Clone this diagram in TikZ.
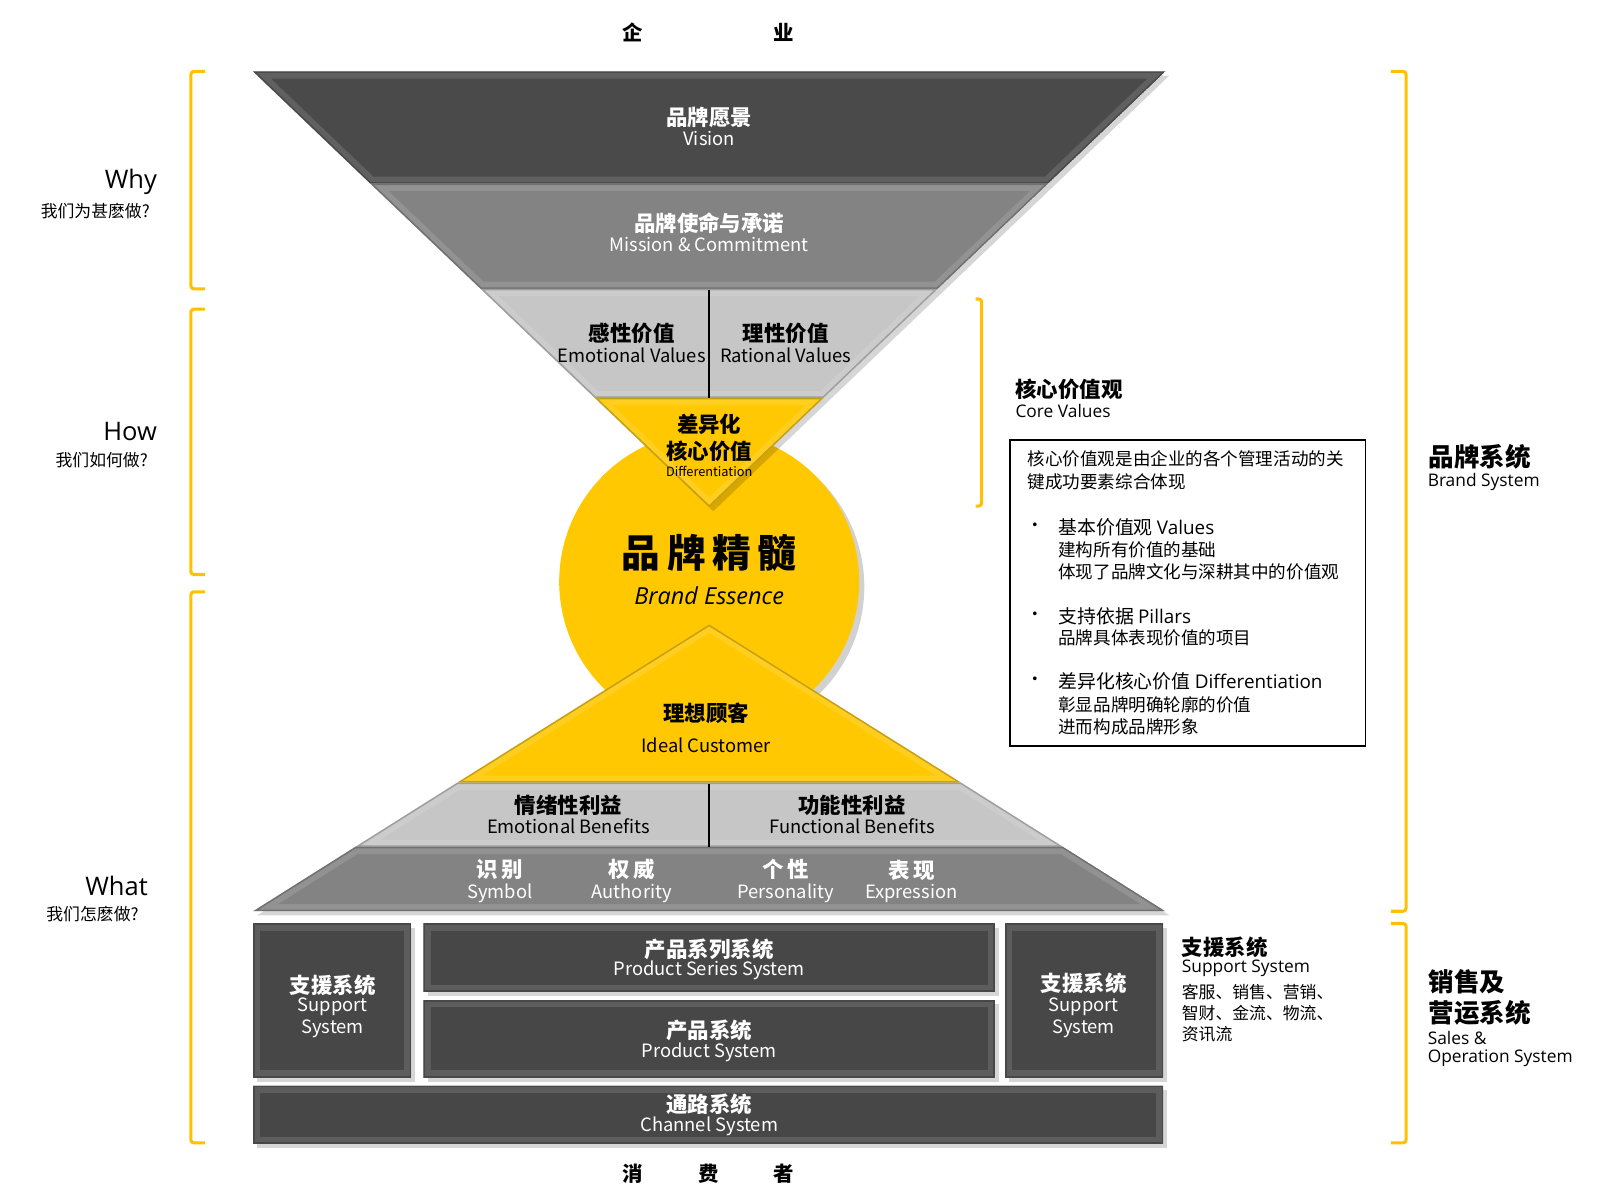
\documentclass[tikz,border=0pt]{standalone}
\usepackage{fontspec}
\setmainfont{Noto Sans CJK SC}
\newfontfamily\segfont{Open Sans}
\definecolor{brandyellow}{HTML}{FFC800}
\definecolor{bracketyellow}{HTML}{FFC000}
\definecolor{darkband}{HTML}{4A4A4A}
\definecolor{midband}{HTML}{838383}
\definecolor{lightband}{HTML}{C6C6C6}
\definecolor{boxgray}{HTML}{474747}
\newcommand{\bevelshape}[2]{%
  \fill[black,opacity=0.16,shift={(4,4)}] #1;
  \begin{scope}
    \clip #1;
    \fill[#2] #1;
    \draw[line width=14pt,white,opacity=0.12] #1;
    \draw[line width=3pt,black,opacity=0.22] #1;
  \end{scope}}

\begin{document}
\begin{tikzpicture}[x=1pt,y=-1pt,
  bracket_line/.style={draw=bracketyellow,line width=3pt,rounded corners=3pt},
  cn_white/.style={text=white,inner sep=0pt,font=\fontsize{21}{21}\selectfont\bfseries},
  en_white/.style={text=white,inner sep=0pt,font=\fontsize{18}{18}\selectfont},
  cn_dark/.style={text=black,inner sep=0pt,font=\fontsize{21}{21}\selectfont\bfseries},
  en_dark/.style={text=black,inner sep=0pt,font=\fontsize{18}{18}\selectfont},
  side_big/.style={anchor=west,inner sep=0pt,font=\fontsize{25}{25}\selectfont\bfseries},
  side_cn/.style={anchor=west,inner sep=0pt,font=\fontsize{21}{21}\selectfont\bfseries},
  side_en/.style={anchor=west,inner sep=0pt,font=\segfont\fontsize{17}{17}\selectfont},
  side_small/.style={anchor=west,inner sep=0pt,font=\fontsize{17.2}{17.2}\selectfont},
  left_head/.style={anchor=east,inner sep=0pt,font=\segfont\fontsize{25}{25}\selectfont},
  left_sub/.style={anchor=east,inner sep=0pt,font=\fontsize{16.5}{16.5}\selectfont},
  edge_char/.style={inner sep=0pt,font=\fontsize{20}{20}\selectfont\bfseries}]

\useasboundingbox (0,0) rectangle (1568,1176);

\draw[bracket_line] (201,70) -- (187,70) -- (187,283) -- (201,283);
\draw[bracket_line] (201,303) -- (187,303) -- (187,563) -- (201,563);
\draw[bracket_line] (201,580) -- (187,580) -- (187,1120) -- (201,1120);
\draw[bracket_line] (1363,70) -- (1378,70) -- (1378,893) -- (1363,893);
\draw[bracket_line] (1363,905) -- (1378,905) -- (1378,1120) -- (1363,1120);
\draw[bracket_line] (956,293) -- (962,293) -- (962,496) -- (956,496);

\fill[black,opacity=0.18] (700,575) circle (147);
\fill[brandyellow] (695,570) circle (147);

\bevelshape{(248,70) -- (1142,70) -- (1027,180) -- (363,180) -- cycle}{darkband}
\bevelshape{(363,180) -- (1027,180) -- (919,283) -- (471,283) -- cycle}{midband}
\bevelshape{(471,283) -- (919,283) -- (807,390) -- (583,390) -- cycle}{lightband}
\bevelshape{(583,390) -- (807,390) -- (695,497) -- cycle}{brandyellow}

\bevelshape{(695,612) -- (942,767) -- (448,767) -- cycle}{brandyellow}
\bevelshape{(448,767) -- (942,767) -- (1042,830) -- (348,830) -- cycle}{lightband}
\bevelshape{(348,830) -- (1042,830) -- (1142,893) -- (248,893) -- cycle}{midband}

\bevelshape{(248,905) rectangle (403,1056)}{boxgray}
\bevelshape{(415,905) rectangle (975,972)}{boxgray}
\bevelshape{(415,980) rectangle (975,1056)}{boxgray}
\bevelshape{(985,905) rectangle (1140,1056)}{boxgray}
\bevelshape{(248,1064) rectangle (1140,1121)}{boxgray}

\draw[line width=2.5pt] (695,284) -- (695,390);
\draw[line width=2.5pt] (695,768) -- (695,830);

\node[edge_char] (firm_a) at (620,32) {企};
\node[edge_char] (firm_b) at (768,32) {业};
\node[edge_char] (buyer_a) at (620,1150) {消};
\node[edge_char] (buyer_b) at (695,1150) {费};
\node[edge_char] (buyer_c) at (768,1150) {者};

\node[left_head] (why) at (154,178) {Why};
\node[left_sub] (why_cn) at (147,207) {我们为甚麽做?};
\node[left_head] (how) at (154,423) {How};
\node[left_sub] (how_cn) at (145,451) {我们如何做?};
\node[left_head] (what) at (145,868) {What};
\node[left_sub] (what_cn) at (136,896) {我们怎麽做?};

\node[cn_white] (vision_cn) at (695,115) {品牌愿景};
\node[en_white] (vision_en) at (695,136) {Vision};
\node[cn_white] (mission_cn) at (695,219) {品牌使命与承诺};
\node[en_white] (mission_en) at (695,240) {Mission \& Commitment};
\node[cn_dark] (emo_cn) at (619,327) {感性价值};
\node[en_dark] (emo_en) at (619,348) {Emotional Values};
\node[cn_dark] (rat_cn) at (770,327) {理性价值};
\node[en_dark] (rat_en) at (770,348) {Rational Values};
\node[cn_dark] (diff_a) at (695,416) {差异化};
\node[cn_dark] (diff_b) at (695,442) {核心价值};
\node[en_dark,font=\fontsize{12.5}{12.5}\selectfont] (diff_en) at (695,462) {Differentiation};

\node[inner sep=0pt,font=\fontsize{38}{38}\selectfont\bfseries] (essence_cn) at (695,542) {品\,牌\,精\,髓};
\node[inner sep=0pt,font=\segfont\itshape\fontsize{23}{23}\selectfont] (essence_en) at (695,584) {Brand Essence};

\node[cn_dark] (ideal_cn) at (692,699) {理想顾客};
\node[en_dark] (ideal_en) at (692,730) {Ideal Customer};
\node[cn_dark] (emob_cn) at (557,789) {情绪性利益};
\node[en_dark] (emob_en) at (557,810) {Emotional Benefits};
\node[cn_dark] (func_cn) at (835,789) {功能性利益};
\node[en_dark] (func_en) at (835,810) {Functional Benefits};

\node[cn_white] (symbol_cn) at (490,852) {识\,别};
\node[en_white] (symbol_en) at (490,875) {Symbol};
\node[cn_white] (auth_cn) at (619,852) {权\,威};
\node[en_white] (auth_en) at (619,875) {Authority};
\node[cn_white] (pers_cn) at (770,852) {个\,性};
\node[en_white] (pers_en) at (770,875) {Personality};
\node[cn_white] (expr_cn) at (893,853) {表\,现};
\node[en_white] (expr_en) at (893,876) {Expression};

\node[cn_white] (supl_cn) at (326,966) {支援系统};
\node[en_white] (supl_a) at (326,987) {Support};
\node[en_white] (supl_b) at (326,1008) {System};
\node[cn_white] (series_cn) at (695,930) {产品系列系统};
\node[en_white] (series_en) at (695,951) {Product Series System};
\node[cn_white] (prod_cn) at (695,1010) {产品系统};
\node[en_white] (prod_en) at (695,1031) {Product System};
\node[cn_white] (supr_cn) at (1062,964) {支援系统};
\node[en_white] (supr_a) at (1062,987) {Support};
\node[en_white] (supr_b) at (1062,1008) {System};
\node[cn_white] (channel_cn) at (695,1082) {通路系统};
\node[en_white] (channel_en) at (695,1104) {Channel System};

\node[side_cn] (core_cn) at (995,382) {核心价值观};
\node[side_en] (core_en) at (995,403) {Core Values};
\draw[line width=1.6pt] (990,431) rectangle (1338,731);
\node[side_small] (core_a) at (1007,450) {核心价值观是由企业的各个管理活动的关};
\node[side_small] (core_b) at (1007,472) {键成功要素综合体现};
\node[side_small] (dot_a) at (1006,517) {•};
\node[side_cn,font=\fontsize{18.5}{18.5}\selectfont] (base_cn) at (1037,517) {基本价值观 {\segfont Values}};
\node[side_small] (base_a) at (1037,539) {建构所有价值的基础};
\node[side_small] (base_b) at (1037,560) {体现了品牌文化与深耕其中的价值观};
\node[side_small] (dot_b) at (1006,604) {•};
\node[side_cn,font=\fontsize{18.5}{18.5}\selectfont] (pillar_cn) at (1037,604) {支持依据 {\segfont Pillars}};
\node[side_small] (pillar_a) at (1037,625) {品牌具体表现价值的项目};
\node[side_small] (dot_c) at (1006,668) {•};
\node[side_cn,font=\fontsize{18.5}{18.5}\selectfont] (dcore_cn) at (1037,668) {差异化核心价值 {\segfont Differentiation}};
\node[side_small] (dcore_a) at (1037,691) {彰显品牌明确轮廓的价值};
\node[side_small] (dcore_b) at (1037,712) {进而构成品牌形象};

\node[side_big] (brand_cn) at (1400,448) {品牌系统};
\node[side_en] (brand_en) at (1399,472) {Brand System};

\node[side_cn] (support_cn) at (1158,928) {支援系统};
\node[side_en] (support_en) at (1158,949) {Support System};
\node[side_small,font=\fontsize{16.5}{16.5}\selectfont] (support_a) at (1158,972) {客服、销售、营销、};
\node[side_small,font=\fontsize{16.5}{16.5}\selectfont] (support_b) at (1158,993) {智财、金流、物流、};
\node[side_small,font=\fontsize{16.5}{16.5}\selectfont] (support_c) at (1158,1014) {资讯流};

\node[side_big] (sales_a) at (1400,962) {销售及};
\node[side_big] (sales_b) at (1400,993) {营运系统};
\node[side_en] (sales_c) at (1399,1017) {Sales \&};
\node[side_en] (sales_d) at (1399,1037) {Operation System};
\end{tikzpicture}
\end{document}
